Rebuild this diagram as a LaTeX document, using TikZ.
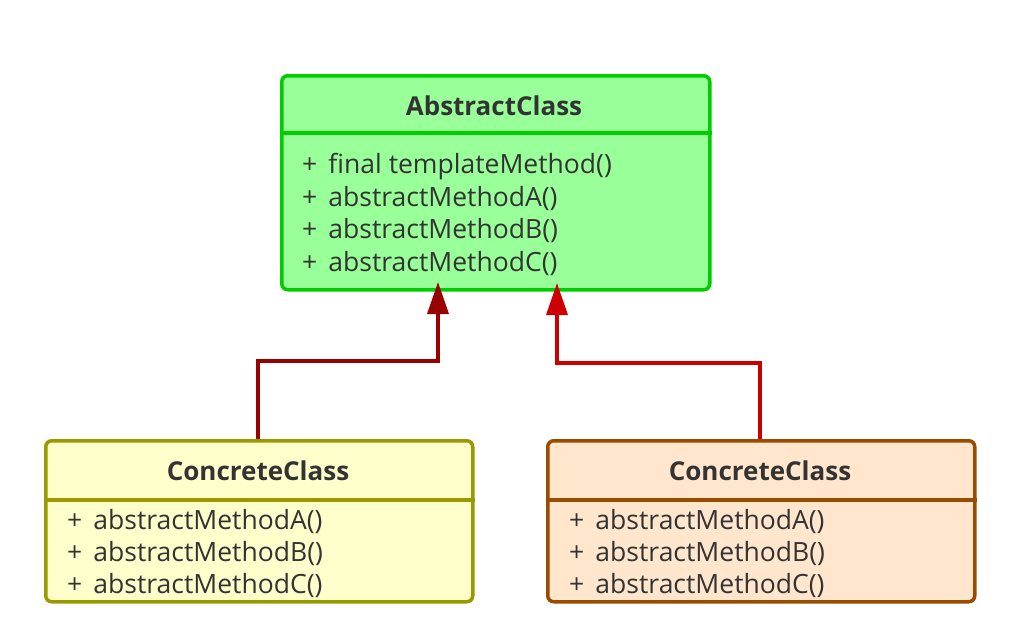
\documentclass[tikz,border=0pt]{standalone}
\usepackage{fontspec}
\setmainfont{Open Sans}
\usetikzlibrary{arrows.meta}
\definecolor{txt}{HTML}{333333}
\definecolor{gfill}{HTML}{99FF99}
\definecolor{gline}{HTML}{00CC00}
\definecolor{yfill}{HTML}{FFFFCC}
\definecolor{yline}{HTML}{999900}
\definecolor{ofill}{HTML}{FFE6CC}
\definecolor{oline}{HTML}{994C00}
\definecolor{darkred}{HTML}{990000}
\definecolor{brightred}{HTML}{CC0000}
\newcommand{\pl}{+\hspace{0.42em}}
\tikzset{
  classbox/.style={rectangle, rounded corners=6pt, line width=3.5pt, inner sep=0pt, anchor=north west},
  sepline/.style={line width=3.5pt},
  title/.style={font=\fontsize{26}{30}\selectfont\bfseries, text=txt, anchor=center, inner sep=0pt},
  meth/.style={font=\fontsize{26.5}{30}\selectfont, text=txt, anchor=west, inner sep=0pt},
  inherit/.style={line width=3.5pt, -{Triangle[width=21pt,length=32pt]}},
}
\begin{document}
\begin{tikzpicture}[x=1pt,y=-1pt]
\useasboundingbox (0,0) rectangle (1014,640);
% Abstract class
\node[classbox, draw=gline, fill=gfill, minimum width=428pt, minimum height=214pt] (ac) at (280,74) {};
\draw[gline, sepline] (ac.west |- 0,133) -- (ac.east |- 0,133);
\node[title] (act) at (494,106) {AbstractClass};
\node[meth] (am1) at (302,167) {\pl final templateMethod()};
\node[meth] (am2) at (302,199) {\pl abstractMethodA()};
\node[meth] (am3) at (302,231) {\pl abstractMethodB()};
\node[meth] (am4) at (302,264) {\pl abstractMethodC()};
% Left concrete
\node[classbox, draw=yline, fill=yfill, minimum width=427pt, minimum height=161pt] (c1) at (44,439) {};
\draw[yline, sepline] (c1.west |- 0,500) -- (c1.east |- 0,500);
\node[title] (c1t) at (258,471) {ConcreteClass};
\node[meth] (c1m1) at (67,522) {\pl abstractMethodA()};
\node[meth] (c1m2) at (67,554) {\pl abstractMethodB()};
\node[meth] (c1m3) at (67,586) {\pl abstractMethodC()};
% Right concrete
\node[classbox, draw=oline, fill=ofill, minimum width=427pt, minimum height=161pt] (c2) at (546,439) {};
\draw[oline, sepline] (c2.west |- 0,500) -- (c2.east |- 0,500);
\node[title] (c2t) at (760,471) {ConcreteClass};
\node[meth] (c2m1) at (569,522) {\pl abstractMethodA()};
\node[meth] (c2m2) at (569,554) {\pl abstractMethodB()};
\node[meth] (c2m3) at (569,586) {\pl abstractMethodC()};
% connectors
\coordinate (t1) at (438,282);
\coordinate (t2) at (557,283);
\draw[inherit, darkred] (c1.north -| 258,0) -- (258,361) -| (t1);
\draw[inherit, brightred] (c2.north -| 760,0) -- (760,363) -| (t2);
\end{tikzpicture}
\end{document}
